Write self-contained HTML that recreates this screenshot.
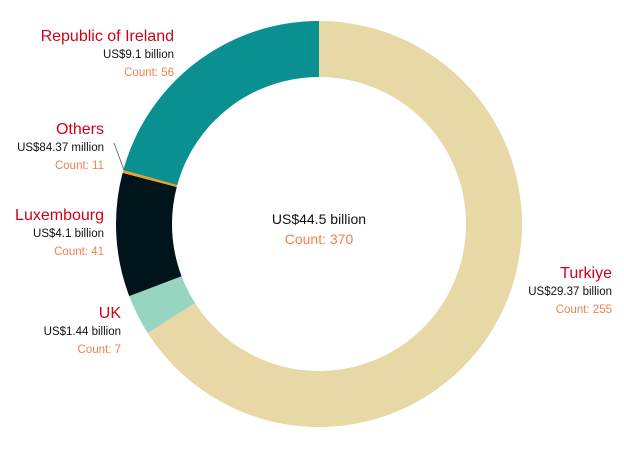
<!DOCTYPE html>
<html><head><meta charset="utf-8"><style>
html,body{margin:0;padding:0;background:#fff;width:624px;height:456px;overflow:hidden}
svg text{font-family:"Liberation Sans",sans-serif}
.t{fill:#d0021b;font-size:16px}
.v{fill:#111;font-size:11.5px}
.c{fill:#f08050;font-size:11.5px}
</style></head><body>
<svg id="s" width="624" height="456" xmlns="http://www.w3.org/2000/svg">
<g id="ring"></g>
<line x1="114" y1="143" x2="124" y2="170" stroke="#555" stroke-width="0.8"/>
<text x="174" y="41" text-anchor="end" class="t">Republic of Ireland</text>
<text x="174" y="58" text-anchor="end" class="v">US$9.1 billion</text>
<text x="174" y="76" text-anchor="end" class="c">Count: 56</text>
<text x="104" y="134" text-anchor="end" class="t">Others</text>
<text x="104" y="151" text-anchor="end" class="v">US$84.37 million</text>
<text x="104" y="169" text-anchor="end" class="c">Count: 11</text>
<text x="104" y="220" text-anchor="end" class="t">Luxembourg</text>
<text x="104" y="237" text-anchor="end" class="v">US$4.1 billion</text>
<text x="104" y="255" text-anchor="end" class="c">Count: 41</text>
<text x="121" y="318" text-anchor="end" class="t">UK</text>
<text x="121" y="335" text-anchor="end" class="v">US$1.44 billion</text>
<text x="121" y="353" text-anchor="end" class="c">Count: 7</text>
<text x="612" y="278" text-anchor="end" class="t">Turkiye</text>
<text x="612" y="295" text-anchor="end" class="v">US$29.37 billion</text>
<text x="612" y="313" text-anchor="end" class="c">Count: 255</text>
<text x="319" y="224" text-anchor="middle" style="fill:#111;font-size:14px">US$44.5 billion</text>
<text x="319" y="244" text-anchor="middle" style="fill:#f08050;font-size:14px">Count: 370</text>
</svg>
<script>
var cx=319,cy=224,R=203,r=147;
var d=[[0,237.5,"#e8d8a6"],[237.5,249.2,"#98d5c0"],[249.2,284.6,"#00141c"],[284.6,285.4,"#f0a020"],[285.4,360,"#0a9090"]];
var h="";
function p(rad,ang){var t=ang*Math.PI/180;return (cx+rad*Math.sin(t)).toFixed(2)+","+(cy-rad*Math.cos(t)).toFixed(2);}
d.forEach(function(x){var a=x[0],e=x[1],l=(e-a)>180?1:0;
h+='<path fill="'+x[2]+'" d="M'+p(R,a)+' A'+R+','+R+' 0 '+l+' 1 '+p(R,e)+' L'+p(r,e)+' A'+r+','+r+' 0 '+l+' 0 '+p(r,a)+' Z"/>';});
document.getElementById("ring").innerHTML=h;
</script>
</body></html>
